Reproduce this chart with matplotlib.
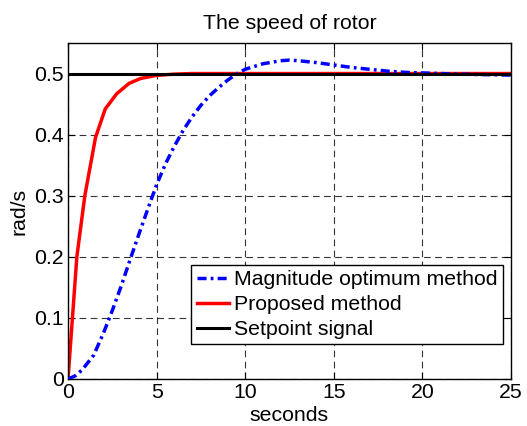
import matplotlib
matplotlib.use("Agg")
import matplotlib.pyplot as plt

plt.rcParams['font.family'] = ['Liberation Sans', 'DejaVu Sans']

title = "The speed of rotor"
xlabel = "seconds"
ylabel = "rad/s"
labels = ["Magnitude optimum method", "Proposed method", "Setpoint signal"]

# Magnitude optimum method (blue dash-dot)
t_mo = [0, 0.4, 0.8, 1.45, 2.0, 2.5, 3.0, 3.5, 4.0, 4.5, 5.0, 5.5, 6.0, 6.5, 7.0,
        7.5, 8.0, 8.5, 9.0, 9.5, 10.0, 11.0, 12.0, 12.5, 13.0, 14.0, 15.0, 16.0,
        17.0, 18.0, 19.0, 20.0, 21.0, 22.0, 23.0, 24.0, 25.0]
y_mo = [0, 0.005, 0.015, 0.039, 0.075, 0.112, 0.152, 0.195, 0.237, 0.278, 0.318,
        0.352, 0.381, 0.407, 0.429, 0.448, 0.464, 0.477, 0.489, 0.499, 0.507,
        0.516, 0.521, 0.522, 0.521, 0.518, 0.514, 0.510, 0.507, 0.504, 0.502,
        0.501, 0.500, 0.499, 0.4985, 0.498, 0.4975]

# Proposed method (red)
t_pm = [0, 0.5, 0.95, 1.55, 2.1, 2.75, 3.45, 4.1, 5.0, 6.0, 7.0, 10.0, 15.0, 20.0, 25.0]
y_pm = [0, 0.20, 0.30, 0.395, 0.442, 0.467, 0.484, 0.492, 0.497, 0.499,
        0.5, 0.5, 0.5, 0.5, 0.5]

# Setpoint
t_sp = [0, 25]
y_sp = [0.5, 0.5]

xticks = [0, 5, 10, 15, 20, 25]
yticks = [0, 0.1, 0.2, 0.3, 0.4, 0.5]

fs = 15.3

fig = plt.figure(figsize=(5.27, 4.26), dpi=100)
ax = fig.add_axes([68/527, 1-379/426, 443/527, 336/426])

l1, = ax.plot(t_mo, y_mo, color='#0000ff', linestyle='-.', linewidth=2.5,
              dashes=(2.6, 1.2, 0.8, 1.2))
l2, = ax.plot(t_pm, y_pm, color='#ff0000', linewidth=2.5)
l3, = ax.plot(t_sp, y_sp, color='black', linewidth=2.2)
l3.set_zorder(2.7)
l2.set_zorder(2.5)
l1.set_zorder(2.6)

ax.set_xlim(0, 25)
ax.set_ylim(0, 0.55)
ax.set_xticks(xticks)
ax.set_yticks(yticks)
ax.set_xticklabels([str(v) for v in xticks])
ax.set_yticklabels(['0', '0.1', '0.2', '0.3', '0.4', '0.5'])
ax.tick_params(direction='in', top=True, right=True, labelsize=fs, length=5, pad=3)
ax.grid(True, color='#333333', linestyle=(0, (6, 4)), linewidth=0.8)
for s in ax.spines.values():
    s.set_linewidth(1.0)
    s.set_color('black')

ax.set_title(title, fontsize=fs, pad=10)
ax.set_xlabel(xlabel, fontsize=fs, labelpad=3)
ax.set_ylabel(ylabel, fontsize=fs, labelpad=4)

leg = ax.legend([l1, l2, l3], labels, loc='lower right',
                bbox_to_anchor=((502.7-68)/443, (379-344.3)/336),
                borderaxespad=0, fontsize=fs, handlelength=1.5, handletextpad=0.25,
                labelspacing=0.28, borderpad=0.25, fancybox=False, framealpha=1,
                edgecolor='black')
leg.get_frame().set_linewidth(1.0)
leg.set_zorder(5)

fig.savefig("out.png", dpi=100)
